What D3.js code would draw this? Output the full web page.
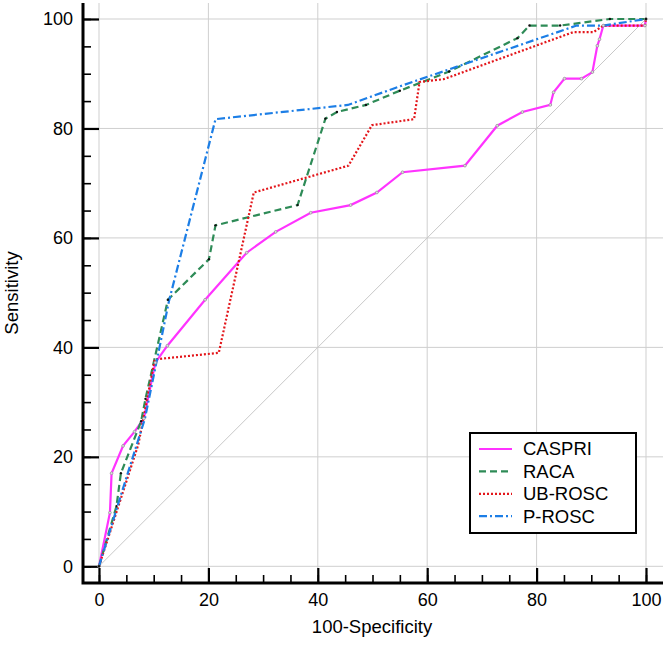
<!DOCTYPE html>
<html>
<head>
<meta charset="utf-8">
<script src="https://cdn.jsdelivr.net/npm/d3@7"></script>
<style>
  body { margin: 0; background: #fff; }
  svg { display: block; font-family: "Liberation Sans", Arial, sans-serif; }
</style>
</head>
<body>
<svg width="669" height="648"></svg>
<script>
// ROC points (100-Specificity, Sensitivity)
const caspriX = [0, 2.0, 2.3, 4.4, 6.5, 8.2, 10.3, 12.5, 19.4, 27.0, 32.3, 38.7, 46.0, 50.8, 55.5, 66.9, 72.8, 77.4, 82.5, 83.1, 85.1, 88.2, 90.2, 91.1, 91.5, 92.2, 99.8, 100];
const caspriY = [0, 9.8, 17.0, 22.0, 24.6, 27.0, 37.2, 40.3, 48.7, 57.3, 61.1, 64.6, 66.0, 68.3, 72.0, 73.2, 80.5, 83.0, 84.3, 86.6, 89.1, 89.1, 90.3, 95.1, 96.3, 98.8, 98.8, 100];

const racaX = [0, 3.2, 4.0, 7.7, 8.5, 12.6, 20.1, 21.3, 36.3, 41.4, 43.5, 48.8, 55.0, 64.0, 76.5, 78.7, 84.3, 93.4, 100];
const racaY = [0, 11.0, 17.0, 26.5, 30.6, 48.7, 56.1, 62.3, 66.0, 81.8, 83.0, 84.3, 86.9, 90.4, 96.5, 98.8, 98.8, 100, 100];

const ubX = [0, 7.2, 10.2, 21.9, 28.3, 45.6, 49.9, 57.6, 58.6, 63.0, 86.7, 90.4, 92.2, 99.8, 100];
const ubY = [0, 22.3, 37.8, 39.0, 68.3, 73.2, 80.6, 81.7, 88.5, 89.0, 97.6, 97.6, 98.8, 98.8, 100];

const pX = [0, 4.0, 8.4, 12.8, 21.3, 45.5, 55.0, 87.3, 92.2, 100];
const pY = [0, 13.0, 27.0, 48.5, 81.7, 84.3, 87.7, 98.8, 98.8, 100];

const seriesNames = ["CASPRI", "RACA", "UB-ROSC", "P-ROSC"];
const majorTicks = [0, 20, 40, 60, 80, 100];
const minorTicks = d3.range(0, 101, 5);

const svg = d3.select("svg");

const x = d3.scaleLinear().domain([0, 100]).range([99, 646]);
const y = d3.scaleLinear().domain([0, 100]).range([566.3, 19]);

const axisX = 83, axisY = 583, plotRight = 663, plotTop = 3;

const styles = [
    { color: "#ff33ff", dash: null },
    { color: "#2e8b57", dash: "7,4" },
    { color: "#e3161b", dash: "2,2" },
    { color: "#1c7ee6", dash: "8,3,2,3" }
];

const series = [
    d3.zip(caspriX, caspriY),
    d3.zip(racaX, racaY),
    d3.zip(ubX, ubY),
    d3.zip(pX, pY)
];

// grid
const grid = svg.append("g").attr("stroke", "#cfcfcf").attr("stroke-width", 1);
grid.selectAll(".gx").data(majorTicks).enter().append("line")
    .attr("x1", d => x(d)).attr("x2", d => x(d))
    .attr("y1", plotTop).attr("y2", axisY);
grid.selectAll(".gy").data(majorTicks).enter().append("line")
    .attr("x1", axisX).attr("x2", plotRight)
    .attr("y1", d => y(d)).attr("y2", d => y(d));

// reference diagonal
svg.append("line")
    .attr("x1", x(0)).attr("y1", y(0))
    .attr("x2", x(100)).attr("y2", y(100))
    .attr("stroke", "#c8c8c8").attr("stroke-width", 1);

// axes, ticks pointing inward
const xMinor = d3.axisBottom(x).tickValues(minorTicks).tickSizeInner(-8).tickSizeOuter(0).tickFormat("");
const xMajor = d3.axisBottom(x).tickValues(majorTicks).tickSizeInner(-15).tickSizeOuter(0).tickPadding(10);
const yMinor = d3.axisLeft(y).tickValues(minorTicks).tickSizeInner(-8).tickSizeOuter(0).tickFormat("");
const yMajor = d3.axisLeft(y).tickValues(majorTicks).tickSizeInner(-16).tickSizeOuter(0).tickPadding(10);

function styleAxis(g, w) {
    g.select(".domain").remove();
    g.selectAll(".tick line").attr("stroke", "#000").attr("stroke-width", w);
    g.selectAll(".tick text").attr("fill", "#000").style("font-size", "18px");
}

svg.append("g").attr("transform", `translate(0,${axisY})`).call(xMinor).call(g => styleAxis(g, 1.6));
svg.append("g").attr("transform", `translate(0,${axisY})`).call(xMajor).call(g => styleAxis(g, 2.2));
svg.append("g").attr("transform", `translate(${axisX},0)`).call(yMinor).call(g => styleAxis(g, 1.6));
svg.append("g").attr("transform", `translate(${axisX},0)`).call(yMajor).call(g => styleAxis(g, 2.2));

svg.append("path")
    .attr("d", `M${axisX},${plotTop}V${axisY}H${plotRight}`)
    .attr("fill", "none").attr("stroke", "#000").attr("stroke-width", 3);

// ROC curves
const line = d3.line().x(d => x(d[0])).y(d => y(d[1]));

series.forEach((pts, i) => {
    svg.append("path")
        .datum(pts)
        .attr("fill", "none")
        .attr("stroke", styles[i].color)
        .attr("stroke-width", 2.2)
        .attr("stroke-dasharray", styles[i].dash)
        .attr("d", line);
});

// little point markers, as in the original
svg.append("g").selectAll("circle").data(series[0]).enter().append("circle")
    .attr("cx", d => x(d[0])).attr("cy", d => y(d[1])).attr("r", 1.4)
    .attr("fill", "#ddd").attr("stroke", "#888").attr("stroke-width", 0.6);
svg.append("g").selectAll("circle").data(series[1]).enter().append("circle")
    .attr("cx", d => x(d[0])).attr("cy", d => y(d[1])).attr("r", 1.2)
    .attr("fill", "#111");

// axis titles
svg.append("text")
    .attr("x", 372).attr("y", 633)
    .attr("text-anchor", "middle")
    .style("font-size", "18.5px")
    .text("100-Specificity");

svg.append("text")
    .attr("transform", "translate(18,293) rotate(-90)")
    .attr("text-anchor", "middle")
    .style("font-size", "18.5px")
    .text("Sensitivity");

// legend
const legend = svg.append("g");
legend.append("rect")
    .attr("x", 470).attr("y", 433).attr("width", 166).attr("height", 100)
    .attr("fill", "#fff").attr("stroke", "#000").attr("stroke-width", 2);

seriesNames.forEach((name, i) => {
    const ly = 449 + i * 22.4;
    legend.append("line")
        .attr("x1", 479).attr("x2", 512).attr("y1", ly).attr("y2", ly)
        .attr("stroke", styles[i].color).attr("stroke-width", 2.2)
        .attr("stroke-dasharray", styles[i].dash);
    legend.append("text")
        .attr("x", 523).attr("y", ly).attr("dy", "0.35em")
        .style("font-size", "18.5px")
        .text(name);
});
</script>
</body>
</html>
